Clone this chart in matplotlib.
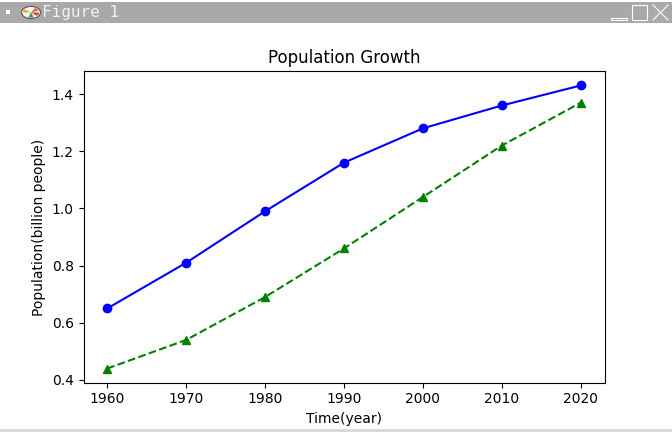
import matplotlib
matplotlib.use("Agg")
import matplotlib.pyplot as plt
from matplotlib.patches import Rectangle, Circle, Wedge
from matplotlib.lines import Line2D

years = [1960, 1970, 1980, 1990, 2000, 2010, 2020]
series_a = [0.65, 0.81, 0.99, 1.16, 1.28, 1.36, 1.43]
series_b = [0.44, 0.54, 0.69, 0.86, 1.04, 1.22, 1.37]
title = "Population Growth"
xlabel = "Time(year)"
ylabel = "Population(billion people)"
window_title = "Figure 1"

W, H = 672, 432
fig = plt.figure(figsize=(W / 100, H / 100), dpi=100)
fig.patch.set_facecolor("white")

# window decoration (title bar and bottom border)
def px(x, y):
    return x / W, 1 - y / H

fig.patches.append(Rectangle(px(0, 22.5), 1, 20.5 / H, transform=fig.transFigure,
                             facecolor="#a9a9a9", edgecolor="none"))
fig.patches.append(Rectangle(px(0, 432), 1, 3.5 / H, transform=fig.transFigure,
                             facecolor="#d9d9d9", edgecolor="none"))
fig.patches.append(Rectangle(px(6, 14), 4 / W, 4 / H, transform=fig.transFigure,
                             facecolor="white", edgecolor="none"))
cx, cy = px(31, 12.5)
fig.patches.append(Circle((cx, cy), 9.5 / W, transform=fig.transFigure,
                          facecolor="#f4f4f4", edgecolor="#555555", linewidth=0.8))
for ang, col in [(20, "#e07020"), (140, "#f0b020"), (250, "#30a050"), (320, "#d04040")]:
    fig.patches.append(Wedge((cx, cy), 8 / W, ang, ang + 40, transform=fig.transFigure,
                             facecolor=col, edgecolor="none"))
fig.text(42 / W, 1 - 13 / H, window_title, family="DejaVu Sans Mono",
         fontsize=11.5, color="#f2f2f2", va="center", ha="left")
# minimise / maximise / close
fig.patches.append(Rectangle(px(611, 20), 16 / W, 2 / H, transform=fig.transFigure,
                             facecolor="none", edgecolor="white", linewidth=0.8))
fig.patches.append(Rectangle(px(632, 20), 15 / W, 15 / H, transform=fig.transFigure,
                             facecolor="none", edgecolor="white", linewidth=0.8))
for (x0, y0, x1, y1) in [(653, 5, 668, 20), (653, 20, 668, 5)]:
    a = px(x0, y0); b = px(x1, y1)
    fig.lines.append(Line2D([a[0], b[0]], [a[1], b[1]], transform=fig.transFigure,
                            color="white", linewidth=0.8))

left, right = 83.5 / W, 604.5 / W
top, bottom = 1 - 71.3 / H, 1 - 382.7 / H
ax = fig.add_axes([left, bottom, right - left, top - bottom])
ax.plot(years, series_a, color="blue", marker="o", linestyle="-")
ax.plot(years, series_b, color="green", marker="^", linestyle="--")
ax.set_title(title)
ax.set_xlabel(xlabel)
ax.set_ylabel(ylabel)

fig.savefig("out.png", dpi=100)
